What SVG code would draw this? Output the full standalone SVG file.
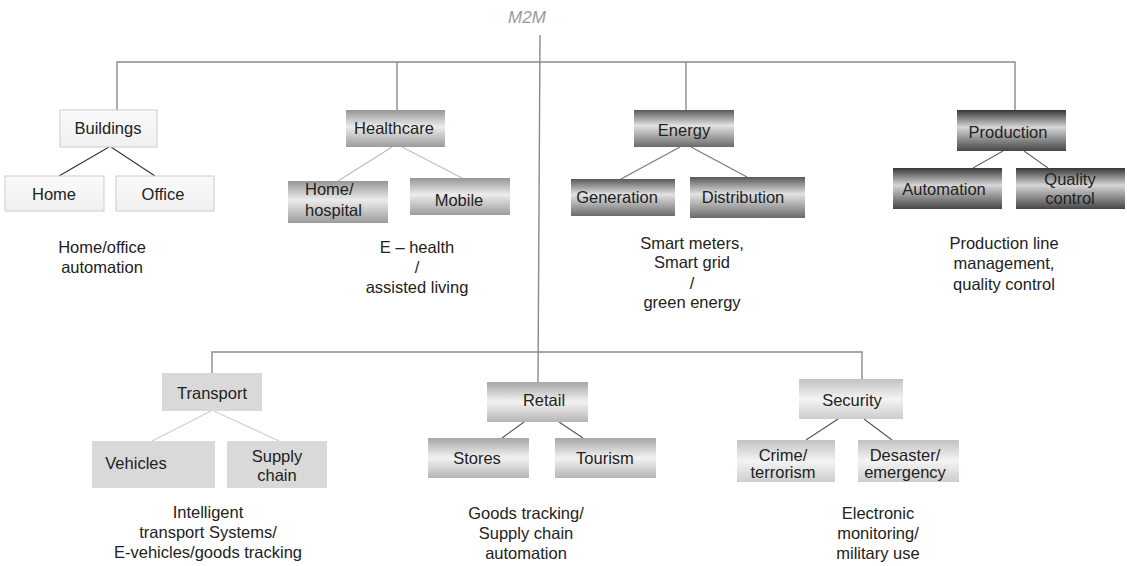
<svg xmlns="http://www.w3.org/2000/svg" width="1127" height="566" viewBox="0 0 1127 566">
  <defs>
    <linearGradient id="gHealth" x1="0" y1="0" x2="0" y2="1">
      <stop offset="0" stop-color="#959595"/>
      <stop offset="0.45" stop-color="#ececec"/>
      <stop offset="1" stop-color="#9c9c9c"/>
    </linearGradient>
    <linearGradient id="gEnergy" x1="0" y1="0" x2="0" y2="1">
      <stop offset="0" stop-color="#585858"/>
      <stop offset="0.42" stop-color="#e2e2e2"/>
      <stop offset="1" stop-color="#6a6a6a"/>
    </linearGradient>
    <linearGradient id="gProd" x1="0" y1="0" x2="0" y2="1">
      <stop offset="0" stop-color="#363636"/>
      <stop offset="0.42" stop-color="#d6d6d6"/>
      <stop offset="1" stop-color="#464646"/>
    </linearGradient>
    <linearGradient id="gRetail" x1="0" y1="0" x2="0" y2="1">
      <stop offset="0" stop-color="#a6a6a6"/>
      <stop offset="0.5" stop-color="#f2f2f2"/>
      <stop offset="1" stop-color="#b6b6b6"/>
    </linearGradient>
    <linearGradient id="gSec" x1="0" y1="0" x2="0" y2="1">
      <stop offset="0" stop-color="#c2c2c2"/>
      <stop offset="0.5" stop-color="#f4f4f4"/>
      <stop offset="1" stop-color="#cdcdcd"/>
    </linearGradient>
    <linearGradient id="gBuild" x1="0" y1="0" x2="0" y2="1">
      <stop offset="0" stop-color="#fafafa"/>
      <stop offset="1" stop-color="#f0f0f0"/>
    </linearGradient>
  </defs>
  <style>
    text { font-family: "Liberation Sans", Arial, sans-serif; font-size: 16.5px; fill: #222; text-anchor: middle; }
    .title { font-style: italic; font-size: 17px; fill: #9a9a9a; }
    .left { text-anchor: start; }
    .trunk { stroke: #8a8a8a; stroke-width: 1.4; fill: none; }
    .sub { fill: none; stroke-width: 1.1; }
    .build { fill: url(#gBuild); stroke: #cccccc; stroke-width: 1; }
    .health { fill: url(#gHealth); }
    .energy { fill: url(#gEnergy); }
    .prod { fill: url(#gProd); }
    .trans { fill: #d9d9d9; }
    .retail { fill: url(#gRetail); }
    .sec { fill: url(#gSec); }
  </style>

  <rect width="1127" height="566" fill="#ffffff"/>

  <!-- root label -->
  <text class="title" x="527" y="23">M2M</text>

  <!-- connectors -->
  <g id="connectors">
    <path class="trunk" d="M540 35 L538 382"/>
    <path class="trunk" d="M117 110 V62 H1015 V110 M397 62 V110 M686 62 V110"/>
    <path class="trunk" d="M212 373 V352 H862 V379"/>
    <path class="sub" stroke="#333333" d="M109 147 L59 176 M111 147 L155 176"/>
    <path class="sub" stroke="#bdbdbd" d="M392 147 L338 181 M402 147 L462 178"/>
    <path class="sub" stroke="#777777" d="M680 147 L621 179 M691 147 L747 177"/>
    <path class="sub" stroke="#666666" d="M1003 151 L973 168 M1024 151 L1048 168"/>
    <path class="sub" stroke="#cfcfcf" d="M211 411 L152 441 M214 411 L279 441"/>
    <path class="sub" stroke="#555555" d="M524 422 L502 438 M559 422 L583 438"/>
    <path class="sub" stroke="#555555" d="M838 419 L806 440 M864 419 L892 440"/>
  </g>

  <!-- Buildings -->
  <g id="buildings">
    <rect class="build" x="60" y="110" width="97" height="37"/>
    <text x="108" y="134">Buildings</text>
  </g>
  <g id="home">
    <rect class="build" x="5" y="176" width="99" height="35"/>
    <text x="54" y="200">Home</text>
  </g>
  <g id="office">
    <rect class="build" x="116" y="176" width="98" height="35"/>
    <text x="163" y="200">Office</text>
  </g>
  <g id="buildings-use">
    <text x="102" y="253">Home/office</text>
    <text x="102" y="273">automation</text>
  </g>

  <!-- Healthcare -->
  <g id="healthcare">
    <rect class="health" x="346" y="110" width="99" height="37"/>
    <text x="394" y="134">Healthcare</text>
  </g>
  <g id="home-hospital">
    <rect class="health" x="288" y="181" width="100" height="42"/>
    <text class="left" x="305" y="195">Home/</text>
    <text class="left" x="305" y="216">hospital</text>
  </g>
  <g id="mobile">
    <rect class="health" x="410" y="178" width="100" height="37"/>
    <text x="459" y="206">Mobile</text>
  </g>
  <g id="healthcare-use">
    <text x="417" y="253">E – health</text>
    <text x="417" y="273">/</text>
    <text x="417" y="293">assisted living</text>
  </g>

  <!-- Energy -->
  <g id="energy">
    <rect class="energy" x="634" y="110" width="100" height="37"/>
    <text x="684" y="136">Energy</text>
  </g>
  <g id="generation">
    <rect class="energy" x="571" y="179" width="104" height="37"/>
    <text x="617" y="203">Generation</text>
  </g>
  <g id="distribution">
    <rect class="energy" x="690" y="177" width="115" height="41"/>
    <text x="743" y="203">Distribution</text>
  </g>
  <g id="energy-use">
    <text x="692" y="249">Smart meters,</text>
    <text x="692" y="268">Smart grid</text>
    <text x="692" y="289">/</text>
    <text x="692" y="308">green energy</text>
  </g>

  <!-- Production -->
  <g id="production">
    <rect class="prod" x="957" y="110" width="109" height="41"/>
    <text x="1008" y="138">Production</text>
  </g>
  <g id="automation">
    <rect class="prod" x="893" y="168" width="109" height="41"/>
    <text x="944" y="195">Automation</text>
  </g>
  <g id="quality-control">
    <rect class="prod" x="1016" y="168" width="109" height="41"/>
    <text x="1070" y="185">Quality</text>
    <text x="1070" y="204">control</text>
  </g>
  <g id="production-use">
    <text x="1004" y="249">Production line</text>
    <text x="1004" y="269">management,</text>
    <text x="1004" y="290">quality control</text>
  </g>

  <!-- Transport -->
  <g id="transport">
    <rect class="trans" x="162" y="373" width="100" height="38"/>
    <text x="212" y="399">Transport</text>
  </g>
  <g id="vehicles">
    <rect class="trans" x="92" y="441" width="123" height="47"/>
    <text x="136" y="469">Vehicles</text>
  </g>
  <g id="supply-chain">
    <rect class="trans" x="227" y="441" width="100" height="47"/>
    <text x="277" y="462">Supply</text>
    <text x="277" y="481">chain</text>
  </g>
  <g id="transport-use">
    <text x="208" y="518">Intelligent</text>
    <text x="208" y="538">transport Systems/</text>
    <text x="208" y="558">E-vehicles/goods tracking</text>
  </g>

  <!-- Retail -->
  <g id="retail">
    <rect class="retail" x="487" y="382" width="101" height="40"/>
    <text x="544" y="406">Retail</text>
  </g>
  <g id="stores">
    <rect class="retail" x="428" y="438" width="101" height="40"/>
    <text x="477" y="464">Stores</text>
  </g>
  <g id="tourism">
    <rect class="retail" x="555" y="438" width="101" height="40"/>
    <text x="605" y="464">Tourism</text>
  </g>
  <g id="retail-use">
    <text x="526" y="519">Goods tracking/</text>
    <text x="526" y="539">Supply chain</text>
    <text x="526" y="559">automation</text>
  </g>

  <!-- Security -->
  <g id="security">
    <rect class="sec" x="799" y="379" width="104" height="40"/>
    <text x="852" y="406">Security</text>
  </g>
  <g id="crime">
    <rect class="sec" x="737" y="440" width="98" height="42"/>
    <text x="783" y="461">Crime/</text>
    <text x="783" y="478">terrorism</text>
  </g>
  <g id="disaster">
    <rect class="sec" x="858" y="440" width="101" height="42"/>
    <text x="905" y="461">Desaster/</text>
    <text x="905" y="478">emergency</text>
  </g>
  <g id="security-use">
    <text x="878" y="519">Electronic</text>
    <text x="878" y="539">monitoring/</text>
    <text x="878" y="559">military use</text>
  </g>
</svg>
